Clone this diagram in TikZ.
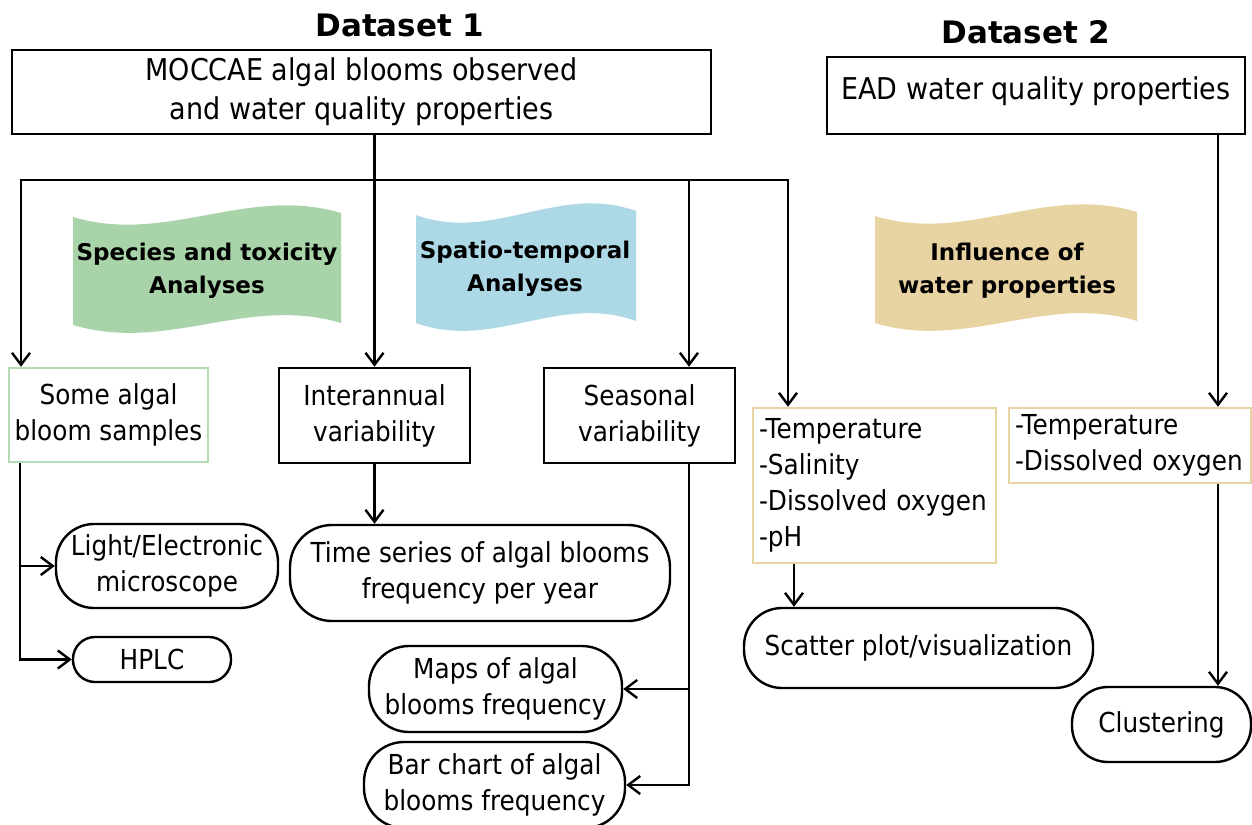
\documentclass[tikz,border=0pt]{standalone}
\usepackage{fontspec}
\setmainfont{DejaVu Sans}
\newfontfamily\bodyfont{DejaVu Sans}[FakeStretch=0.9]
\usetikzlibrary{arrows.meta,calc}
\definecolor{bgreen}{HTML}{A9D3A9}
\definecolor{bblue}{HTML}{ADD8E6}
\definecolor{btan}{HTML}{E8D3A2}
\definecolor{lgreen}{HTML}{B4DCB4}
\newcommand{\wavefill}[5]{%
  \fill[#5] (#1,#3) .. controls ({#1+0.35*(#2-#1)},{#3+28}) and ({#1+0.65*(#2-#1)},{#3-32}) .. (#2,{#3-4})
   -- (#2,{#4-2}) .. controls ({#1+0.65*(#2-#1)},{#4-30}) and ({#1+0.35*(#2-#1)},{#4+28}) .. (#1,#4) -- cycle;}
\begin{document}
\begin{tikzpicture}[x=1pt,y=-1pt,line width=2.4pt,
  box/.style={draw=black,inner sep=2pt,align=center,font=\bodyfont\fontsize{27.5}{36}\selectfont},
  topbox/.style={box,font=\bodyfont\fontsize{30}{39}\selectfont},
  listbox/.style={draw=btan,inner sep=5pt,align=left,font=\bodyfont\fontsize{27.5}{36}\selectfont},
  pill/.style={box,rounded corners=#1},
  btext/.style={align=center,font=\bfseries\fontsize{23}{33}\selectfont},
  title/.style={font=\bfseries\fontsize{31}{36}\selectfont},
  arr/.style={-{Straight Barb[length=12pt,width=18pt]}}]
\useasboundingbox (0,0) rectangle (1252,824);

% titles
\node[title] (t1) at (400,25) {Dataset 1};
\node[title] (t2) at (1026,32) {Dataset 2};

% top boxes
\node[topbox,minimum width=699pt,minimum height=84pt] (moccae) at (361.5,92) {MOCCAE algal blooms observed\\and water quality properties};
\node[topbox,minimum width=418pt,minimum height=77pt,text depth=14pt] (ead) at (1036,95.5) {EAD water quality properties};

% banners
\wavefill{73}{341}{217}{325}{bgreen}
\wavefill{416}{636}{215}{323}{bblue}
\wavefill{875}{1137}{216}{323}{btan}
\node[btext] (bt1) at (207,270.5) {Species and toxicity\\Analyses};
\node[btext] (bt2) at (525,269) {Spatio-temporal\\Analyses};
\node[btext] (bt3) at (1007,270.5) {Influence of\\water properties};

% second row
\node[box,draw=lgreen,minimum width=199pt,minimum height=94pt] (algal) at (108.5,415) {Some algal\\bloom samples};
\node[box,minimum width=191pt,minimum height=95pt] (inter) at (374.5,415.5) {Interannual\\variability};
\node[box,minimum width=191pt,minimum height=95pt] (season) at (639.5,415.5) {Seasonal\\variability};
\node[listbox,minimum width=243pt,text width=231pt,minimum height=155pt] (temp1) at (874.5,485.5) {-Temperature\\-Salinity\\-Dissolved oxygen\\-pH};
\node[listbox,minimum width=242pt,text width=230pt,minimum height=75pt] (temp2) at (1130,445.5) {-Temperature\\-Dissolved oxygen};

% output nodes
\node[pill=38pt,minimum width=222pt,minimum height=84pt] (light) at (167,566) {Light/Electronic\\microscope};
\node[pill=22pt,minimum width=158pt,minimum height=45pt] (hplc) at (152,659.5) {HPLC};
\node[pill=42pt,minimum width=380pt,minimum height=96pt] (ts) at (480,573) {Time series of algal blooms\\frequency per year};
\node[pill=40pt,minimum width=253pt,minimum height=86pt] (maps) at (495.5,689) {Maps of algal\\blooms frequency};
\node[pill=40pt,minimum width=261pt,minimum height=86pt] (bar) at (494.5,785) {Bar chart of algal\\blooms frequency};
\node[pill=38pt,minimum width=349pt,minimum height=80pt] (scat) at (918.5,648) {Scatter plot/visualization};
\node[pill=36pt,minimum width=179pt,minimum height=75pt] (clus) at (1161.5,724.5) {Clustering};

% bus
\coordinate (busL) at (21,180);
\coordinate (busS) at (689,180);
\coordinate (busR) at (788,180);
\coordinate (xe) at (1218,0);
\coordinate (v1) at (20,0);
\coordinate (v3) at (794,0);

\draw[arr] (busS) -- (busL) -- (busL |- algal.north);
\draw[arr] (busS) -- (busR) -- (busR |- temp1.north);
\draw[arr] (moccae.south -| inter.north) -- (inter.north);
\draw[arr] (busS) -- (busS |- season.north);
\draw[arr] (ead.south -| xe) -- (xe |- temp2.north);

% lower connectors
\draw[arr] (algal.south -| v1) -- (v1 |- hplc.west) -- (hplc.west);
\draw[arr] (v1 |- light.west) -- (light.west);
\draw[arr] (inter.south) -- (inter.south |- ts.north);
\draw[arr] (season.south -| busS) -- (busS |- bar.east) -- (bar.east);
\draw[arr] (busS |- maps.east) -- (maps.east);
\draw[arr] (temp1.south -| v3) -- (v3 |- scat.north);
\draw[arr] (temp2.south -| xe) -- (xe |- clus.north);
\end{tikzpicture}
\end{document}
